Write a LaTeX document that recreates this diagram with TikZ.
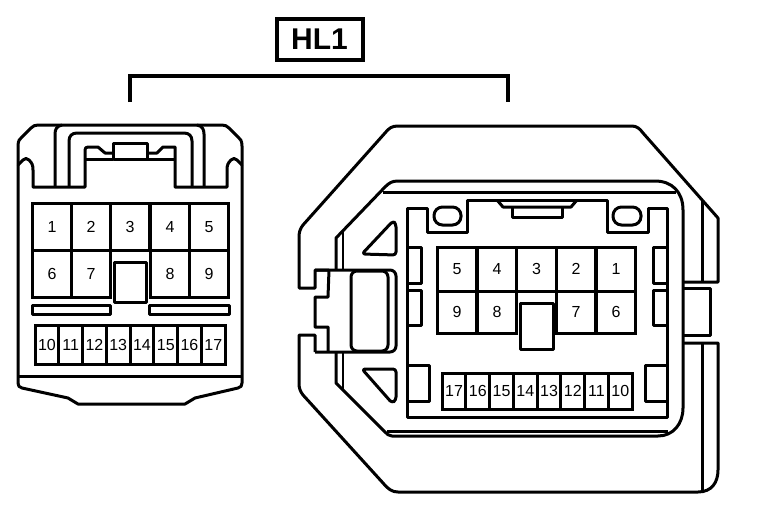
\documentclass[tikz,border=0pt]{standalone}
\usepackage{fontspec}
\setmainfont{Liberation Sans}
\usetikzlibrary{positioning}
\tikzset{
  heavy/.style = {line width=3pt, line join=round},
  medium/.style = {line width=2.4pt, line join=round},
  bigpin/.style = {draw, line width=3pt, inner sep=0pt, text height=11.5pt, text depth=0pt, font=\fontsize{16}{16}\selectfont},
  smallpin/.style = {draw, line width=3pt, inner sep=0pt, text height=11.5pt, text depth=0pt, font=\fontsize{16}{16}\selectfont},
  titlebox/.style = {draw, line width=4pt, inner sep=0pt, minimum width=86pt, minimum height=41pt, font=\fontsize{30}{30}\selectfont\bfseries}
}
\newcommand{\bigcell}[5]{
  \node[bigpin, minimum width=#4pt, minimum height=#5pt] (#1) at (#2) {#3};
}
\begin{document}
\begin{tikzpicture}[x=1pt,y=-1pt]
\useasboundingbox (0,0) rectangle (768,506);
% title and bracket
\node[titlebox] (title) at (319.5,39.5) {HL1};
\coordinate (brL) at (130,102);
\coordinate (brR) at (508,102);
\draw[line width=4pt, line join=miter] (brL) -- (130,76) -- (508,76) -- (brR);

% left connector, housing
\draw[heavy] (18,165) -- (18,146) .. controls (18,140) and (20,139) .. (22,137) -- (31,128) .. controls (33,126) and (35,125) .. (38,125) -- (222,125) .. controls (225,125) and (227,126) .. (229,128) -- (238,137) .. controls (240,139) and (242,140) .. (242,146) -- (242,165);
\draw[heavy] (18,165) -- (23,160) .. controls (25,158) and (27,158) .. (29,160) .. controls (32,163) and (33,165) .. (33,170) -- (33,187) -- (85,187) -- (85,150) .. controls (85,148) and (86,147) .. (88,147) -- (98,147) -- (105,153) -- (113,153);
\draw[heavy] (242,165) -- (237,160) .. controls (235,158) and (233,158) .. (231,160) .. controls (228,163) and (227,165) .. (227,170) -- (227,187) -- (175,187) -- (175,147) -- (163,147) -- (157,153) -- (147,153);
\draw[heavy] (85,159) -- (113,159) (147,159) -- (175,159);
\draw[heavy] (113,159) -- (113,143) -- (147,143) -- (147,159) -- cycle;
\draw[heavy] (69,187) -- (69,141) .. controls (69,136) and (72,133) .. (77,133) -- (184,133) .. controls (189,133) and (192,136) .. (192,141) -- (192,187);
\draw[heavy] (55,187) -- (55,134) .. controls (55,129) and (57,126) .. (62,125);
\draw[heavy] (204,187) -- (204,134) .. controls (204,129) and (202,126) .. (197,125);
\draw[heavy] (18,165) -- (18,383) .. controls (18,386) and (19,387) .. (22,388) -- (68,398) -- (78,404) -- (185,404) -- (195,398) -- (238,388) .. controls (241,387) and (242,386) .. (242,383) -- (242,165);
\draw[heavy] (18,376) -- (242,376);

% left connector, pins
\foreach \n/\x in {1/52,2/91,3/130,4/170,5/209} {
  \bigcell{lp\n}{\x,226.5}{\n}{39}{47}
}
\foreach \n/\x in {6/52,7/91,8/170,9/209} {
  \bigcell{lp\n}{\x,273.5}{\n}{39}{47}
}
\draw[heavy,fill=white] (114,262) rectangle (146,302);
\draw[heavy] (32,305) rectangle (110,314);
\draw[heavy] (149,305) rectangle (229,314);
\foreach \n [count=\i from 0] in {10,...,17} {
  \pgfmathsetmacro{\cx}{47+23.75*\i}
  \node[smallpin, minimum width=23.75pt, minimum height=39pt] (ls\n) at (\cx,344.5) {\n};
}

% right connector, outer shell
\draw[heavy] (329,270) -- (315,270) -- (315,288) -- (299,288) -- (299,238) .. controls (299,232) and (300,229) .. (303,225) -- (385,133) .. controls (389,128) and (392,126) .. (398,126) -- (632,126) .. controls (637,126) and (640,129) .. (643,133) -- (718,218) -- (718,282) -- (683,282);
\draw[heavy] (683,343) -- (718,343) -- (718,470) .. controls (718,482) and (712,492) .. (698,492) -- (398,492) .. controls (392,492) and (388,489) .. (383,483) -- (303,395) .. controls (300,391) and (299,388) .. (299,383) -- (299,335) -- (315,335) -- (315,352);
\draw[heavy] (702,200) -- (702,282) (702,343) -- (702,492);
\draw[heavy] (683,288) -- (710,288) -- (710,335) -- (683,335);

% latch
\draw[heavy] (329,270) -- (328,297) -- (315,297) -- (315,327) -- (328,327) -- (328,352);
\draw[heavy, rounded corners=6pt] (315,352) -- (396,352) -- (396,270) -- (315,270);
\draw[heavy, rounded corners=6pt] (351,271) rectangle (388,351);

% right connector, inner wall
\draw[heavy] (336,270) -- (336,238) -- (385,187) .. controls (389,183) and (392,181) .. (398,181) -- (655,181) .. controls (672,181) and (683,192) .. (683,210) -- (683,408) .. controls (683,424) and (673,436) .. (658,436) -- (392,436) .. controls (389,436) and (387,434) .. (385,432) -- (336,383) -- (336,352);
\draw[medium] (343,270) -- (343,231) (343,352) -- (343,390);
\draw[heavy] (383,192) -- (676,192) (387,431) -- (668,431);

% inner panel
\draw[heavy] (407,208) -- (427,208) -- (427,232) -- (467,232) -- (467,200) -- (607,200) -- (607,232) -- (648,232) -- (648,208) -- (667,208) -- (667,417) -- (407,417) -- cycle;
\draw[heavy] (497,200) -- (503,207) -- (571,207) -- (577,200);
\draw[heavy] (512,207) -- (512,217) -- (562,217) -- (562,207);
\draw[heavy, rounded corners=8.5pt] (434,207) rectangle (461,225);
\draw[heavy, rounded corners=8.5pt] (613,207) rectangle (641,225);
\draw[heavy, rounded corners=3pt] (362,254) -- (393,221) -- (396,224) -- (396,255) -- cycle;
\draw[heavy, rounded corners=3pt] (362,369) -- (396,369) -- (396,400) -- (392,403) -- cycle;

% side tabs
\draw[heavy] (407,247) -- (421,247) -- (421,283) -- (407,283);
\draw[heavy] (407,290) -- (421,290) -- (421,325) -- (407,325);
\draw[heavy] (407,365) -- (429,365) -- (429,401) -- (407,401);
\draw[heavy] (667,247) -- (653,247) -- (653,283) -- (667,283);
\draw[heavy] (667,290) -- (653,290) -- (653,325) -- (667,325);
\draw[heavy] (667,365) -- (645,365) -- (645,401) -- (667,401);

% right connector, pins
\foreach \n/\x in {5/457,4/497,3/536.5,2/576,1/616} {
  \bigcell{rp\n}{\x,269}{\n}{39.5}{44}
}
\foreach \n/\x in {9/457,8/497,7/576,6/616} {
  \bigcell{rp\n}{\x,312}{\n}{39.5}{42}
}
\draw[heavy,fill=white] (520,303) rectangle (553,349);
\foreach \n [count=\i from 0] in {17,...,10} {
  \pgfmathsetmacro{\cx}{454+23.75*\i}
  \node[smallpin, minimum width=23.75pt, minimum height=36pt] (rs\n) at (\cx,391) {\n};
}
\end{tikzpicture}
\end{document}
